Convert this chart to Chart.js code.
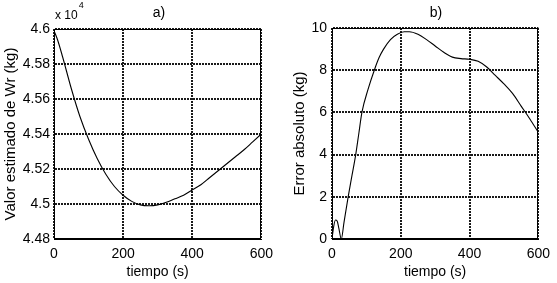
<!DOCTYPE html>
<html><head><meta charset="utf-8">
<script src="https://cdn.jsdelivr.net/npm/chart.js@4/dist/chart.umd.min.js"></script>
<style>
html,body{margin:0;padding:0;background:#fff;overflow:hidden}
#wrap{position:relative;width:557px;height:283px;background:#fff}
canvas{position:absolute;top:0}
</style></head><body>
<div id="wrap">
<canvas id="ca" width="280" height="283" style="left:0"></canvas>
<canvas id="cb" width="277" height="283" style="left:280px"></canvas>
</div>
<script>
// ---- data ----
const xTicks = [0, 200, 400, 600];

const timeA = [0, 10, 25, 50, 75, 100, 125, 150, 175, 200, 225, 250, 275, 300, 325, 350, 375, 400, 425, 450, 475, 500, 525, 550, 575, 600];
const wrA   = [4.599, 4.594, 4.584, 4.566, 4.550, 4.537, 4.526, 4.517, 4.510, 4.505, 4.5015, 4.4995, 4.499, 4.4995, 4.501, 4.503, 4.505, 4.508, 4.511, 4.515, 4.519, 4.523, 4.527, 4.531, 4.5355, 4.540];
const yTicksA = [4.48, 4.5, 4.52, 4.54, 4.56, 4.58, 4.6];

const timeB = [0, 5, 10, 15, 20, 27, 35, 47, 58, 69, 78, 87, 105, 123, 137, 150, 170, 190, 210, 225, 250, 275, 300, 325, 350, 375, 400, 425, 450, 475, 500, 525, 550, 575, 600];
const errB  = [0, 0.6, 0.9, 0.85, 0.5, 0.0, 0.8, 2.0, 3.0, 4.0, 5.0, 6.0, 7.1, 8.0, 8.6, 9.0, 9.45, 9.7, 9.82, 9.82, 9.7, 9.45, 9.15, 8.85, 8.62, 8.55, 8.52, 8.42, 8.15, 7.75, 7.35, 6.9, 6.3, 5.7, 5.05];
const yTicksB = [0, 2, 4, 6, 8, 10];

const FONT = "'Liberation Sans', Arial, sans-serif";

const framePlugin = {
  id: 'frame',
  afterDraw(chart, args, o) {
    const {ctx, chartArea: a} = chart;
    ctx.save();
    ctx.strokeStyle = '#000';
    ctx.lineWidth = 1;
    ctx.setLineDash([]);
    ctx.strokeRect(Math.round(a.left) + 0.5, Math.round(a.top) + 0.5, Math.round(a.right - a.left) - 1, Math.round(a.bottom - a.top) - 1);
    ctx.fillStyle = '#000';
    ctx.textAlign = 'center';
    ctx.textBaseline = 'middle';
    ctx.font = '14px ' + FONT;
    ctx.fillText(o.title, o.titleX, 13);
    if (o.exp) {
      ctx.textAlign = 'left';
      ctx.font = '12px ' + FONT;
      ctx.fillText('x 10', a.left + 1, 16);
      const w = ctx.measureText('x 10').width;
      ctx.font = '9px ' + FONT;
      ctx.fillText('4', a.left + 2 + w, 6);
    }
    ctx.restore();
  }
};

function makeChart(id, xs, ys, yTicks, yMin, yMax, cfg) {
  const pts = xs.map((x, i) => ({x: x, y: ys[i]}));
  return new Chart(document.getElementById(id), {
    type: 'line',
    data: { datasets: [{ data: pts, borderColor: '#000', borderWidth: 1.1, pointRadius: 0, tension: 0.4, cubicInterpolationMode: 'monotone', fill: false }] },
    plugins: [framePlugin],
    options: {
      responsive: false, animation: false, devicePixelRatio: 1,
      layout: { padding: { top: cfg.top, right: cfg.right, left: 0, bottom: 0 } },
      plugins: { legend: { display: false }, tooltip: { enabled: false }, title: { display: false },
        frame: { title: cfg.title, titleX: cfg.titleX, exp: cfg.exp } },
      scales: {
        x: {
          type: 'linear', min: 0, max: 600,
          afterBuildTicks: s => { s.ticks = xTicks.map(v => ({value: v})); },
          afterFit: s => { s.height = 44; },
          ticks: { color: '#000', font: { family: FONT, size: 14 }, padding: 7, maxRotation: 0, autoSkip: false },
          grid: { color: '#1a1a1a', lineWidth: 2, drawTicks: false },
          border: { display: true, color: '#000', width: 1, dash: [2, 1] },
          title: { display: true, text: 'tiempo (s)', color: '#000', font: { family: FONT, size: 14 }, padding: { top: 0, bottom: 2 } }
        },
        y: {
          type: 'linear', min: yMin, max: yMax,
          afterBuildTicks: s => { s.ticks = yTicks.map(v => ({value: v})); },
          afterFit: s => { s.width = cfg.yw; },
          ticks: { color: '#000', font: { family: FONT, size: 14 }, padding: cfg.tickPad, autoSkip: false,
            callback: v => String(+(+v).toFixed(2)) },
          grid: { color: '#1a1a1a', lineWidth: 2, drawTicks: false },
          border: { display: true, color: '#000', width: 1, dash: [2, 1] },
          title: { display: true, text: cfg.ytitle, color: '#000', font: { family: FONT, size: 15 }, padding: { top: cfg.ytPad, bottom: 0 } }
        }
      }
    }
  });
}

makeChart('ca', timeA, wrA, yTicksA, 4.48, 4.6,
  { top: 29, right: 16, yw: 54, tickPad: 4, ytitle: 'Valor estimado de Wr (kg)', ytPad: 2, title: 'a)', titleX: 159, exp: true });
makeChart('cb', timeB, errB, yTicksB, 0, 10,
  { top: 28, right: 14, yw: 52, tickPad: 5, ytitle: 'Error absoluto (kg)', ytPad: 11, title: 'b)', titleX: 156, exp: false });
</script>
</body></html>
